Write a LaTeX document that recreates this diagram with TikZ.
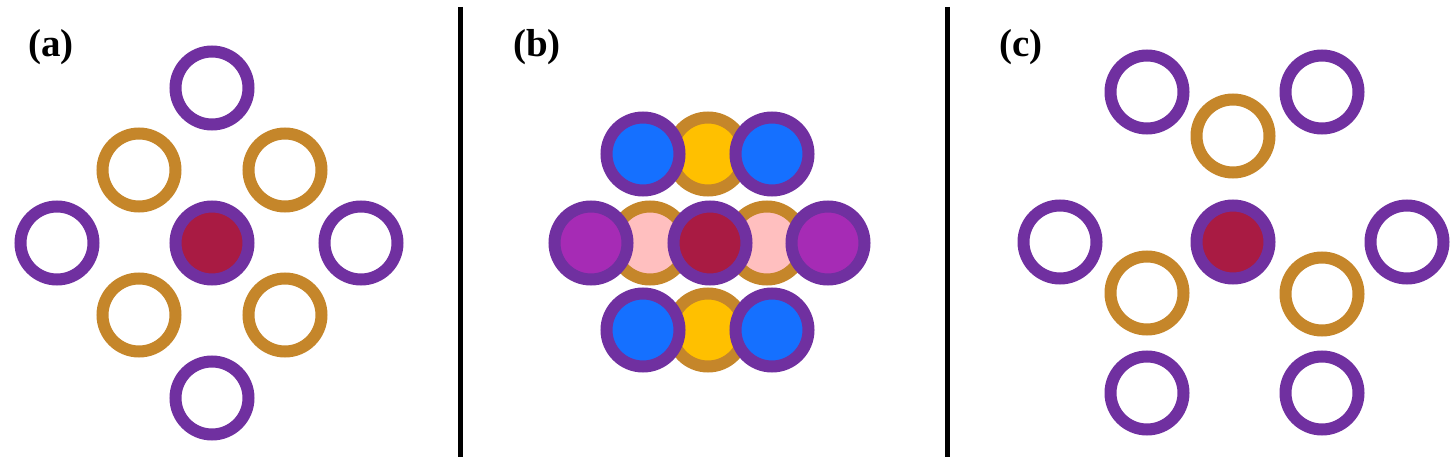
\documentclass[tikz,border=0pt]{standalone}
\usepackage{fontspec}
\setmainfont{Liberation Serif}
\definecolor{cpurple}{HTML}{7030A0}
\definecolor{corange}{HTML}{C5862A}
\definecolor{cred}{HTML}{A91B43}
\definecolor{cblue}{HTML}{1570FF}
\definecolor{cyellow}{HTML}{FFC000}
\definecolor{cpink}{HTML}{FFBFBF}
\definecolor{cmagenta}{HTML}{A62BB5}
\tikzset{
  ring/.style={circle, inner sep=0pt, minimum size=73pt, line width=12pt},
  pring/.style={ring, draw=cpurple},
  oring/.style={ring, draw=corange},
  plabel/.style={font=\fontsize{39}{42}\selectfont\bfseries, inner sep=0pt},
  divider/.style={line width=5pt, black}
}
\begin{document}
\begin{tikzpicture}[x=1pt,y=-1pt]
\useasboundingbox (0,0) rectangle (1452,460);
% labels
\node[plabel] (la) at (51,47) {(a)};
\node[plabel] (lb) at (537,47) {(b)};
\node[plabel] (lc) at (1021,47) {(c)};
% dividers
\coordinate (d1t) at (460,7); \coordinate (d1b) at (460,457);
\coordinate (d2t) at (947,7); \coordinate (d2b) at (947,457);
\draw[divider] (d1t) -- (d1b);
\draw[divider] (d2t) -- (d2b);
% panel a
\node[pring] (a1) at (212,88) {};
\node[oring] (a2) at (139,170) {};
\node[oring] (a3) at (285,170) {};
\node[pring] (a4) at (57,243) {};
\node[pring, fill=cred] (a5) at (212,243) {};
\node[pring] (a6) at (361,243) {};
\node[oring] (a7) at (139,315) {};
\node[oring] (a8) at (285,315) {};
\node[pring] (a9) at (212,398) {};
% panel b
\node[oring, fill=cyellow] (b1) at (708,154) {};
\node[oring, fill=cyellow] (b2) at (708,330) {};
\node[oring, fill=cpink] (b3) at (650,243) {};
\node[oring, fill=cpink] (b4) at (767,243) {};
\node[pring, fill=cblue] (b5) at (643,154) {};
\node[pring, fill=cblue] (b6) at (772,154) {};
\node[pring, fill=cblue] (b7) at (643,330) {};
\node[pring, fill=cblue] (b8) at (772,330) {};
\node[pring, fill=cmagenta] (b9) at (591,243) {};
\node[pring, fill=cmagenta] (b10) at (828,243) {};
\node[pring, fill=cred] (b11) at (710,243) {};
% panel c
\node[pring] (c1) at (1147,92) {};
\node[pring] (c2) at (1322,92) {};
\node[oring] (c3) at (1233,136) {};
\node[pring] (c4) at (1060,242) {};
\node[pring, fill=cred] (c5) at (1233,242) {};
\node[pring] (c6) at (1407,242) {};
\node[oring] (c7) at (1147,293) {};
\node[oring] (c8) at (1322,294) {};
\node[pring] (c9) at (1147,393) {};
\node[pring] (c10) at (1322,393) {};
\end{tikzpicture}
\end{document}
